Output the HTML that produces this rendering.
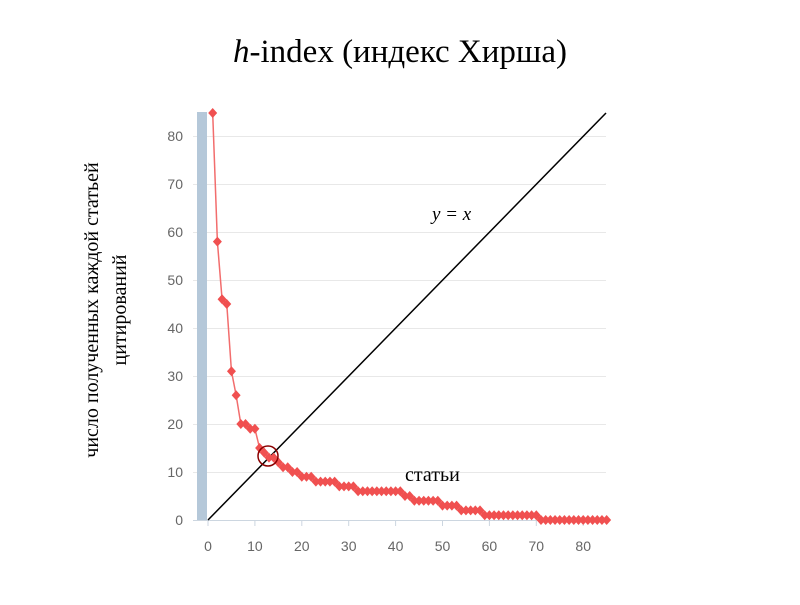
<!DOCTYPE html>
<html><head><meta charset="utf-8"><style>
body{margin:0;background:#fff;width:800px;height:600px;overflow:hidden}
</style></head><body>
<svg id="s" width="800" height="600" xmlns="http://www.w3.org/2000/svg" font-family="Liberation Sans, sans-serif">
<text x="400" y="62" text-anchor="middle" font-family="Liberation Serif, serif" font-size="33"><tspan font-style="italic">h</tspan>-index (индекс Хирша)</text>
<g id="grid" stroke="#e8e8e8" stroke-width="1"></g>
<rect x="197" y="112" width="10" height="408" fill="#b5c8d9"/>
<line x1="193" y1="520.5" x2="606" y2="520.5" stroke="#ccd6e0"/>
<g id="lbl" fill="#666" font-size="14"></g>
<line x1="208" y1="520" x2="606" y2="113" stroke="#000" stroke-width="1.5"/>
<polyline id="pl" fill="none" stroke="#f26d6d" stroke-width="1.5"/>
<g id="pts" fill="#f05050"></g>
<circle cx="268" cy="456" r="10" fill="none" stroke="#8b0000" stroke-width="1.5"/>
<text x="432" y="220" font-family="Liberation Serif, serif" font-style="italic" font-size="19">y = x</text>
<text x="405" y="481" font-family="Liberation Serif, serif" font-size="20">статьи</text>
<g font-family="Liberation Serif, serif" font-size="20" text-anchor="middle">
<text transform="translate(98,310) rotate(-90)">число полученных каждой статьей</text>
<text transform="translate(126,310) rotate(-90)">цитирований</text>
</g>
</svg>
<script>
var X=function(v){return 208+v*4.69},Y=function(v){return 520-v*4.8};
var g=document.getElementById('grid'),l=document.getElementById('lbl'),ns='http://www.w3.org/2000/svg';
function el(t,a,p){var e=document.createElementNS(ns,t);for(var k in a)e.setAttribute(k,a[k]);p.appendChild(e);return e}
for(var i=10;i<=80;i+=10){el('line',{x1:193,x2:606,y1:Y(i)+.5,y2:Y(i)+.5},g)}
for(var i=0;i<=80;i+=10){var t=el('text',{x:183,y:Y(i)+5,'text-anchor':'end'},l);t.textContent=i;
var t2=el('text',{x:X(i),y:551,'text-anchor':'middle'},l);t2.textContent=i;el('line',{x1:X(i),x2:X(i),y1:521,y2:526,stroke:'#ccd6e0'},g)}
var d={1:85,2:58,3:46,4:45,5:31,6:26,7:20,8:20,9:19,10:19,11:15,12:14,13:13,14:13,15:12,16:11,17:11,18:10,19:10,20:9,21:9,22:9};
function v(x){if(d[x]!=null)return d[x];if(x<=27)return 8;if(x<=31)return 7;if(x<=41)return 6;if(x<=43)return 5;if(x<=49)return 4;if(x<=53)return 3;if(x<=58)return 2;if(x<=70)return 1;return 0}
var pts=[],pg=document.getElementById('pts');
for(var x=1;x<=85;x++){var px=X(x),py=Math.max(Y(v(x)),113);pts.push(px+','+py);
el('polygon',{points:(px)+','+(py-5)+' '+(px+4.5)+','+py+' '+px+','+(py+5)+' '+(px-4.5)+','+py},pg)}
document.getElementById('pl').setAttribute('points',pts.join(' '));
</script>
</body></html>
